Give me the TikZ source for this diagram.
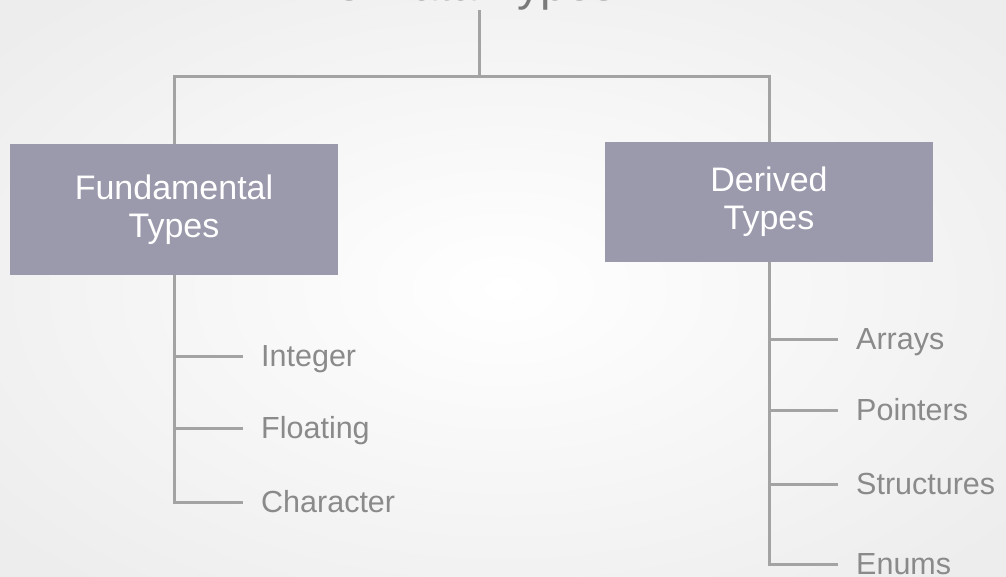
\documentclass[tikz,border=0pt]{standalone}
\usepackage{fontspec}
\setmainfont{Liberation Sans}
\definecolor{boxc}{HTML}{9B99AC}
\definecolor{linec}{HTML}{A3A3A3}
\definecolor{labc}{HTML}{8A8A8A}
\definecolor{titc}{HTML}{7A7A7A}
\definecolor{bgc}{HTML}{EDEDED}
\begin{document}
\begin{tikzpicture}[x=1pt,y=-1pt,
  conn/.style={draw=linec, line width=3pt},
  box/.style={fill=boxc, minimum width=328pt, text=white, align=center,
    font=\fontsize{34}{38}\selectfont, inner sep=0pt},
  item/.style={anchor=west, text=labc, font=\fontsize{30.5}{32}\selectfont,
    inner xsep=18pt, inner ysep=0pt, text height=21.8pt, text depth=0pt},
  titlestyle/.style={anchor=base, text=titc, font=\fontsize{47}{50}\selectfont, inner sep=0pt}]
\useasboundingbox (0,0) rectangle (1006,577);
\clip (0,0) rectangle (1006,577);
\shade[inner color=white, outer color=bgc] (-150,-100) rectangle (1156,677);

\node[titlestyle] (title) at (474,1) {C Data Types};

\node[box, minimum height=131pt] (fund) at (174,209.5) {Fundamental\\Types};
\node[box, minimum height=120pt] (der) at (769,202) {Derived\\Types};

\node[item] (int) at (243,356) {Integer};
\node[item] (flo) at (243,428) {Floating};
\node[item] (chr) at (243,502) {Character};

\node[item] (arr) at (838,339) {Arrays};
\node[item] (poi) at (838,410) {Pointers};
\node[item] (str) at (838,484) {Structures};
\node[item] (enu) at (838,564) {Enums};

\coordinate (tt) at (479,10);
\coordinate (tj) at (479,77);
\draw[conn] (tt) -- (tj);
\draw[conn] (fund.north) |- (tj) -| (der.north);

\draw[conn] (fund.south) |- (chr.west);
\draw[conn] (fund.south |- int.west) -- (int.west);
\draw[conn] (fund.south |- flo.west) -- (flo.west);

\draw[conn] (der.south) |- (enu.west);
\draw[conn] (der.south |- arr.west) -- (arr.west);
\draw[conn] (der.south |- poi.west) -- (poi.west);
\draw[conn] (der.south |- str.west) -- (str.west);
\end{tikzpicture}
\end{document}
